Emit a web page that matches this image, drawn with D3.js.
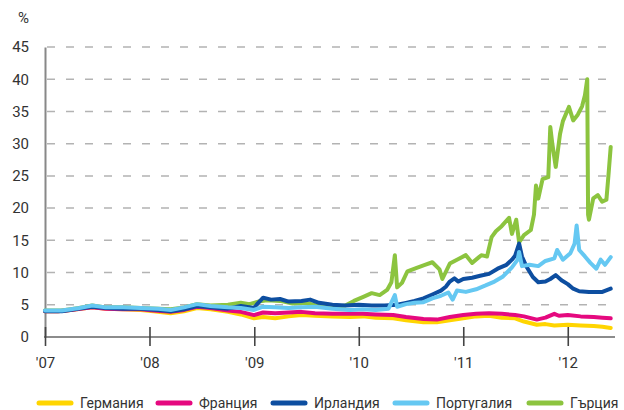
<!DOCTYPE html>
<meta charset="utf-8">
<style>
body { margin: 0; background: #fff; }
text { font-family: Roboto, "Open Sans", sans-serif; fill: #333; }
.grid line { stroke: #b3b3b3; stroke-width: 1.5; stroke-dasharray: 8 11; }
.series { fill: none; stroke-width: 4; stroke-linejoin: round; stroke-linecap: round; }
</style>
<body>
<svg id="chart" width="624" height="410"></svg>
<script src="https://cdnjs.cloudflare.com/ajax/libs/d3/7.8.5/d3.min.js"></script>
<script>

// values in %
var germany = [
  ["2007-01-01", 4.0], ["2007-02-15", 4.0], ["2007-04-01", 4.2], ["2007-06-15", 4.6], ["2007-08-01", 4.4],
  ["2007-10-01", 4.3], ["2007-12-01", 4.2], ["2008-01-15", 4.0], ["2008-03-15", 3.7], ["2008-05-01", 4.0],
  ["2008-06-15", 4.5], ["2008-08-01", 4.3], ["2008-10-01", 3.9], ["2008-11-15", 3.5], ["2008-12-31", 2.9],
  ["2009-02-01", 3.1], ["2009-03-15", 2.9], ["2009-05-01", 3.2], ["2009-06-15", 3.4], ["2009-08-01", 3.3],
  ["2009-10-01", 3.2], ["2009-12-01", 3.1], ["2010-01-15", 3.2], ["2010-03-01", 3.0], ["2010-05-01", 2.9],
  ["2010-06-15", 2.6], ["2010-08-15", 2.3], ["2010-10-01", 2.3], ["2010-11-15", 2.6], ["2011-01-01", 2.9],
  ["2011-02-15", 3.2], ["2011-04-01", 3.3], ["2011-05-15", 3.0], ["2011-07-01", 2.9], ["2011-08-01", 2.4],
  ["2011-09-15", 1.9], ["2011-10-15", 2.0], ["2011-11-15", 1.8], ["2012-01-01", 1.9], ["2012-02-15", 1.8],
  ["2012-04-01", 1.7], ["2012-05-01", 1.6], ["2012-05-30", 1.4]
];

var france = [
  ["2007-01-01", 4.0], ["2007-02-15", 4.0], ["2007-04-01", 4.2], ["2007-06-15", 4.6], ["2007-08-01", 4.4],
  ["2007-10-01", 4.3], ["2007-12-01", 4.3], ["2008-01-15", 4.1], ["2008-03-15", 3.9], ["2008-05-01", 4.2],
  ["2008-06-15", 4.7], ["2008-08-01", 4.5], ["2008-10-01", 4.1], ["2008-11-15", 3.9], ["2008-12-31", 3.4],
  ["2009-02-01", 3.8], ["2009-03-15", 3.7], ["2009-05-01", 3.8], ["2009-06-15", 3.9], ["2009-08-01", 3.7],
  ["2009-10-01", 3.6], ["2009-12-01", 3.6], ["2010-01-15", 3.6], ["2010-03-01", 3.5], ["2010-05-01", 3.4],
  ["2010-06-15", 3.1], ["2010-08-15", 2.8], ["2010-10-01", 2.7], ["2010-11-15", 3.1], ["2011-01-01", 3.4],
  ["2011-02-15", 3.6], ["2011-04-01", 3.7], ["2011-05-15", 3.6], ["2011-07-01", 3.4], ["2011-08-01", 3.2],
  ["2011-09-15", 2.7], ["2011-10-15", 3.0], ["2011-11-15", 3.6], ["2011-12-01", 3.3], ["2012-01-01", 3.4],
  ["2012-02-15", 3.2], ["2012-04-01", 3.1], ["2012-05-01", 3.0], ["2012-05-30", 2.9]
];

var ireland = [
  ["2007-01-01", 4.0], ["2007-03-01", 4.0], ["2007-05-01", 4.4], ["2007-06-15", 4.7], ["2007-08-01", 4.5],
  ["2007-10-01", 4.4], ["2007-12-01", 4.4], ["2008-02-01", 4.2], ["2008-03-15", 4.0], ["2008-05-01", 4.3],
  ["2008-06-15", 4.8], ["2008-08-01", 4.6], ["2008-10-01", 4.4], ["2008-11-15", 4.8], ["2008-12-31", 4.5],
  ["2009-01-15", 5.3], ["2009-02-01", 6.1], ["2009-03-01", 5.8], ["2009-04-01", 5.9], ["2009-05-01", 5.5],
  ["2009-06-15", 5.6], ["2009-07-15", 5.8], ["2009-08-15", 5.3], ["2009-10-01", 5.0], ["2009-11-15", 4.9],
  ["2010-01-01", 5.0], ["2010-02-15", 4.9], ["2010-04-01", 4.9], ["2010-05-15", 5.0], ["2010-06-15", 5.3],
  ["2010-07-15", 5.6], ["2010-08-15", 6.0], ["2010-09-15", 6.6], ["2010-10-15", 7.2], ["2010-11-01", 7.8],
  ["2010-11-15", 8.6], ["2010-12-01", 9.1], ["2010-12-15", 8.6], ["2011-01-01", 9.0], ["2011-02-01", 9.2],
  ["2011-03-01", 9.5], ["2011-04-01", 9.8], ["2011-05-01", 10.6], ["2011-06-01", 11.2], ["2011-06-20", 12.0],
  ["2011-07-01", 12.6], ["2011-07-15", 14.5], ["2011-07-25", 12.5], ["2011-08-10", 10.9], ["2011-09-01", 9.3],
  ["2011-09-20", 8.5], ["2011-10-15", 8.6], ["2011-11-01", 9.0], ["2011-11-20", 9.6], ["2011-12-10", 8.8],
  ["2012-01-01", 8.2], ["2012-01-20", 7.5], ["2012-02-10", 7.1], ["2012-03-15", 7.0], ["2012-05-01", 7.0],
  ["2012-05-30", 7.5]
];

var portugal = [
  ["2007-01-01", 4.1], ["2007-03-01", 4.1], ["2007-05-01", 4.5], ["2007-06-15", 4.9], ["2007-08-01", 4.6],
  ["2007-10-01", 4.6], ["2007-12-01", 4.5], ["2008-02-01", 4.4], ["2008-03-15", 4.2], ["2008-05-01", 4.6],
  ["2008-06-15", 5.1], ["2008-08-01", 4.8], ["2008-10-01", 4.6], ["2008-11-15", 4.5], ["2008-12-31", 4.2],
  ["2009-02-01", 4.7], ["2009-03-15", 4.6], ["2009-05-01", 4.5], ["2009-06-15", 4.6], ["2009-08-01", 4.7],
  ["2009-10-01", 4.4], ["2009-12-01", 4.2], ["2010-01-15", 4.3], ["2010-03-01", 4.2], ["2010-04-15", 4.4],
  ["2010-05-07", 6.5], ["2010-05-15", 4.7], ["2010-06-15", 5.1], ["2010-07-15", 5.3], ["2010-08-15", 5.4],
  ["2010-09-15", 6.0], ["2010-10-15", 6.4], ["2010-11-10", 6.9], ["2010-11-25", 5.8], ["2010-12-10", 7.2],
  ["2011-01-10", 7.0], ["2011-02-15", 7.4], ["2011-03-20", 8.0], ["2011-04-20", 8.6], ["2011-05-20", 9.4],
  ["2011-06-20", 10.8], ["2011-07-10", 12.0], ["2011-07-15", 13.2], ["2011-07-25", 11.0], ["2011-08-20", 11.2],
  ["2011-09-20", 11.0], ["2011-10-15", 11.8], ["2011-11-15", 12.2], ["2011-11-25", 13.5], ["2011-12-15", 12.0],
  ["2012-01-10", 13.0], ["2012-01-25", 14.5], ["2012-02-01", 17.3], ["2012-02-10", 13.5], ["2012-03-01", 12.5],
  ["2012-03-20", 11.5], ["2012-04-10", 10.6], ["2012-04-25", 12.0], ["2012-05-10", 11.2], ["2012-05-30", 12.4]
];

var greece = [
  ["2007-01-01", 4.1], ["2007-03-01", 4.1], ["2007-05-01", 4.5], ["2007-06-15", 4.9], ["2007-08-01", 4.6],
  ["2007-10-01", 4.6], ["2007-12-01", 4.5], ["2008-02-01", 4.4], ["2008-03-15", 4.3], ["2008-05-01", 4.6],
  ["2008-06-15", 5.1], ["2008-08-01", 4.9], ["2008-10-01", 5.0], ["2008-11-15", 5.3], ["2008-12-15", 5.1],
  ["2009-01-15", 5.5], ["2009-02-15", 5.7], ["2009-04-01", 5.6], ["2009-05-15", 5.2], ["2009-07-01", 5.3],
  ["2009-08-15", 4.8], ["2009-10-01", 4.6], ["2009-11-15", 4.9], ["2009-12-15", 5.6], ["2010-01-15", 6.2],
  ["2010-02-15", 6.8], ["2010-03-15", 6.5], ["2010-04-10", 7.3], ["2010-04-25", 8.5], ["2010-05-07", 12.7],
  ["2010-05-15", 7.7], ["2010-06-01", 8.4], ["2010-06-20", 10.2], ["2010-07-20", 10.7], ["2010-08-20", 11.2],
  ["2010-09-15", 11.6], ["2010-10-10", 10.5], ["2010-10-20", 9.0], ["2010-11-15", 11.4], ["2010-12-10", 12.0],
  ["2011-01-10", 12.7], ["2011-02-01", 11.5], ["2011-03-05", 12.7], ["2011-03-25", 12.5], ["2011-04-10", 15.5],
  ["2011-04-25", 16.4], ["2011-05-15", 17.2], ["2011-06-10", 18.5], ["2011-06-20", 16.0], ["2011-07-05", 18.2],
  ["2011-07-15", 14.7], ["2011-08-01", 15.8], ["2011-08-25", 16.6], ["2011-09-05", 19.0], ["2011-09-12", 23.5],
  ["2011-09-20", 21.5], ["2011-10-05", 24.5], ["2011-10-25", 24.8], ["2011-11-01", 32.6], ["2011-11-08", 30.0],
  ["2011-11-20", 26.4], ["2011-12-05", 31.5], ["2011-12-15", 33.5], ["2012-01-05", 35.7], ["2012-01-20", 33.6],
  ["2012-02-05", 34.5], ["2012-02-20", 35.8], ["2012-03-01", 37.5], ["2012-03-09", 40.0], ["2012-03-12", 19.0],
  ["2012-03-15", 18.2], ["2012-03-30", 21.5], ["2012-04-15", 22.0], ["2012-04-30", 21.0], ["2012-05-15", 21.3],
  ["2012-05-22", 25.0], ["2012-05-30", 29.5]
];

var yTicks = [0, 5, 10, 15, 20, 25, 30, 35, 40, 45];
var xTicks = ["2007-01-01", "2008-01-01", "2009-01-01", "2010-01-01", "2011-01-01", "2012-01-01"];

var legendNames = ["Германия", "Франция", "Ирландия", "Португалия", "Гърция"];
var legendColors = ["#ffd500", "#e5097f", "#0d4ea0", "#65c8f2", "#8cc43f"];
var legendX = [37, 156, 271, 393, 527];

// drawing order: greece under ireland / portugal
var drawOrder = [[germany, 0], [france, 1], [greece, 4], [ireland, 2], [portugal, 3]];

var parse = d3.timeParse("%Y-%m-%d");

var plotLeft = 45, plotRight = 615, plotTop = 47, plotBottom = 337;

var svg = d3.select("#chart");

var x = d3.scaleTime()
    .domain([parse("2007-01-01"), parse("2012-06-14")])
    .range([plotLeft, plotRight]);

var y = d3.scaleLinear()
    .domain([0, 45])
    .range([plotBottom, plotTop]);

// dashed grid
svg.append("g").attr("class", "grid")
   .selectAll("line")
   .data(yTicks.filter(d => d > 0))
   .enter().append("line")
   .attr("x1", plotLeft + 2).attr("x2", plotRight)
   .attr("y1", d => y(d)).attr("y2", d => y(d));

// y axis
var yAxis = d3.axisLeft(y).tickValues(yTicks).tickSize(0).tickPadding(16);
var gy = svg.append("g").attr("transform", "translate(" + plotLeft + ",0)").call(yAxis);
gy.select(".domain").attr("stroke", "#888").attr("stroke-width", 2);
gy.selectAll("text").style("font-size", "15px").attr("fill", "#333").attr("font-family", null);

svg.append("text")
   .attr("x", 29).attr("y", 23)
   .attr("text-anchor", "end")
   .style("font-size", "15px")
   .text("%");

// lines
var line = d3.line()
    .x(d => x(parse(d[0])))
    .y(d => y(d[1]));

svg.selectAll("path.series")
   .data(drawOrder)
   .enter().append("path")
   .attr("class", "series")
   .attr("stroke", d => legendColors[d[1]])
   .attr("d", d => line(d[0]));

// x axis
var xAxis = d3.axisBottom(x)
    .tickValues(xTicks.map(parse))
    .tickSize(9)
    .tickPadding(11)
    .tickFormat(d => "'" + d3.timeFormat("%y")(d));
var gx = svg.append("g").attr("transform", "translate(0," + plotBottom + ")").call(xAxis);
gx.select(".domain").attr("stroke", "#666").attr("stroke-width", 1.6).attr("d", "M" + (plotLeft - 1) + ",0H" + plotRight);
gx.selectAll(".tick line").attr("y1", -10).attr("stroke", "#444").attr("stroke-width", 1.6);
gx.selectAll("text").style("font-size", "15px").attr("fill", "#333").attr("font-family", null);

// legend
var legend = svg.append("g").selectAll("g")
    .data(legendNames)
    .enter().append("g")
    .attr("transform", (d, i) => "translate(" + legendX[i] + ",403)");

legend.append("line")
    .attr("x1", 2).attr("x2", 34)
    .attr("stroke", (d, i) => legendColors[i])
    .attr("stroke-width", 5)
    .attr("stroke-linecap", "round");

legend.append("text")
    .attr("x", 43).attr("y", 5)
    .style("font-size", "14px")
    .text(d => d);

</script>
</body>
